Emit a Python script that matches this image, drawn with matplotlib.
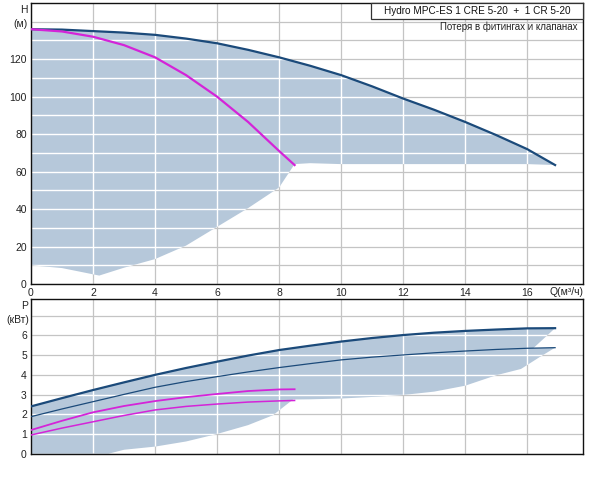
import matplotlib.pyplot as plt
from matplotlib.patches import Polygon, Rectangle
import numpy as np

plt.rcParams['font.family'] = ['Liberation Sans', 'DejaVu Sans']

# --- head curves (top chart) ---
q_max = [0, 1, 2, 3, 4, 5, 6, 7, 8, 9, 10, 11, 12, 13, 14, 15, 16, 16.9]
h_max = [136, 135.8, 135, 134.2, 133, 131, 128.5, 125, 121, 116.5, 111.5, 105.5, 99, 93, 86.5, 79.5, 72, 63.5]

q_one = [0, 1, 2, 3, 4, 5, 6, 7, 8, 8.5]
h_one = [136, 134.8, 132, 127.5, 121, 111.5, 100, 86.5, 71, 63.5]

q_hmin = [0, 1, 2.2, 3, 4, 5, 6, 7, 8, 8.5, 9, 10, 12, 14, 16, 16.9]
h_hmin = [10, 8.5, 4.5, 8.7, 13.3, 20.5, 30.5, 40.5, 51.5, 64, 64.5, 64, 64, 64, 64, 63.5]

# --- power curves (bottom chart) ---
p_max = [2.4, 2.82, 3.23, 3.62, 4.0, 4.35, 4.67, 4.98, 5.26, 5.48, 5.69, 5.87, 6.02, 6.14, 6.23, 6.3, 6.36, 6.37]
p_two = [1.88, 2.27, 2.64, 3.01, 3.37, 3.66, 3.91, 4.15, 4.37, 4.57, 4.76, 4.9, 5.01, 5.12, 5.21, 5.29, 5.35, 5.38]
p_one_a = [1.2, 1.67, 2.1, 2.42, 2.67, 2.87, 3.03, 3.18, 3.26, 3.27]
p_one_b = [0.95, 1.3, 1.62, 1.94, 2.22, 2.4, 2.52, 2.62, 2.68, 2.7]

q_pmin = [0, 2.5, 3, 4, 5, 6, 7, 7.8, 8.45, 9, 10, 11, 12, 13, 14, 15, 15.8, 16.4, 16.9]
p_pmin = [0, 0, 0.2, 0.36, 0.62, 1.0, 1.45, 1.95, 2.75, 2.76, 2.8, 2.88, 2.98, 3.15, 3.45, 3.98, 4.3, 4.9, 5.38]
q_notch = 16.2

title_text = 'Hydro MPC-ES 1 CRE 5-20  +  1 CR 5-20'
sub_text = 'Потеря в фитингах и клапанах'

fill_col = '#b6c8da'
navy = '#1b4a7a'
magenta = '#d424d8'
grid_col = '#c4c4c4'


def setup(ax, ymax, ystep):
    ax.set_xlim(0, 17.8)
    ax.set_ylim(0, ymax)
    ax.set_xticks(np.arange(0, 17, 2))
    ax.set_yticks(np.arange(0, ymax, ystep))
    ax.grid(True, color=grid_col, lw=0.9)
    ax.set_axisbelow(True)
    ax.tick_params(length=0, labelsize=7.5, pad=3, colors='#222222')
    for s in ax.spines.values():
        s.set_color('#111111')
        s.set_linewidth(1)


def white_grid(ax, patch, ymax, ystep):
    for x in np.arange(2, 17, 2):
        ln = ax.axvline(x, color='white', lw=1, zorder=2)
        ln.set_clip_path(patch)
    for y in np.arange(ystep, ymax, ystep):
        ln = ax.axhline(y, color='white', lw=1, zorder=2)
        ln.set_clip_path(patch)


fig = plt.figure(figsize=(6, 4.86), dpi=100)
ax1 = fig.add_axes([31/600, 1 - 284/486, 552/600, 281/486])
ax2 = fig.add_axes([31/600, 1 - 453.7/486, 552/600, 154.7/486])

# top chart
setup(ax1, 150, 10)
ax1.set_yticklabels([str(v) if v % 20 == 0 and v < 140 else '' for v in range(0, 150, 10)])
pts = list(zip(q_max, h_max)) + list(zip(q_hmin[::-1], h_hmin[::-1]))
poly1 = Polygon(pts, closed=True, facecolor=fill_col, edgecolor='none', zorder=1)
ax1.add_patch(poly1)
white_grid(ax1, poly1, 150, 10)
ax1.plot(q_max, h_max, color=navy, lw=1.6, zorder=3)
ax1.plot(q_one, h_one, color=magenta, lw=1.6, zorder=3)

# bottom chart
setup(ax2, 7.85, 1)
ax2.set_yticklabels([str(v) if v < 7 else '' for v in range(0, 8)])
ax2.set_xticklabels([])
p_notch = np.interp(q_notch, q_max, p_two)
pts2 = list(zip(q_max, p_max)) + [(q_notch, p_notch), (q_max[-1], p_two[-1])] \
    + list(zip(q_pmin[::-1], p_pmin[::-1]))
poly2 = Polygon(pts2, closed=True, facecolor=fill_col, edgecolor='none', zorder=1)
ax2.add_patch(poly2)
white_grid(ax2, poly2, 7.85, 1)
ax2.plot(q_max, p_max, color=navy, lw=1.6, zorder=3)
ax2.plot(q_max, p_two, color=navy, lw=0.9, zorder=3)
ax2.plot(q_one, p_one_a, color=magenta, lw=1.3, zorder=3)
ax2.plot(q_one, p_one_b, color=magenta, lw=1.1, zorder=3)

# legend box
ax1.add_patch(Rectangle((340/552, 265/281), 212/552, 16/281, transform=ax1.transAxes,
                        facecolor='white', edgecolor='#333333', lw=0.9, zorder=5, clip_on=False))
ax1.text(446/552, 273/281, title_text, transform=ax1.transAxes, ha='center', va='center',
         fontsize=7.2, zorder=6, color='#111111')
ax1.text(547/552, 257/281, sub_text, transform=ax1.transAxes, ha='right', va='center',
         fontsize=7.0, zorder=6, color='#222222')

# axis captions
fig.text(28/600, 1 - 10/486, 'H', ha='right', va='center', fontsize=7.5, color='#222222')
fig.text(28/600, 1 - 24/486, '(м)', ha='right', va='center', fontsize=7.5, color='#222222')
fig.text(28/600, 1 - 306/486, 'P', ha='right', va='center', fontsize=7.5, color='#222222')
fig.text(29/600, 1 - 320/486, '(кВт)', ha='right', va='center', fontsize=7.5, color='#222222')
fig.text(566/600, 1 - 292/486, 'Q(м³/ч)', ha='center', va='center', fontsize=7.5, color='#222222')

fig.savefig('out.png', dpi=100)
